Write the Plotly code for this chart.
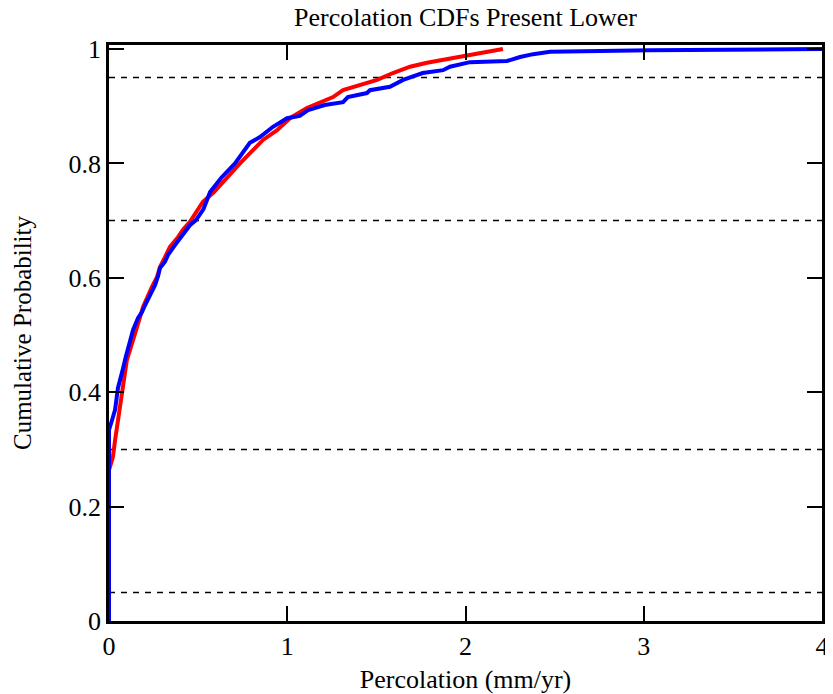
import plotly.graph_objects as go

# krzywa czerwona (CDF 1)
red_x = [0.0, 0.0, 0.011, 0.022, 0.034, 0.045, 0.056, 0.067, 0.079, 0.09, 0.1, 0.118, 0.135,
         0.157, 0.174, 0.191, 0.213, 0.241, 0.269, 0.286, 0.314, 0.342, 0.387, 0.415, 0.454,
         0.494, 0.527, 0.589, 0.66, 0.735, 0.791, 0.864, 0.943, 1.015, 1.11, 1.184, 1.257,
         1.313, 1.408, 1.504, 1.593, 1.689, 1.784, 1.874, 1.986, 2.098, 2.177, 2.21]
red_y = [0.0, 0.264, 0.275, 0.287, 0.316, 0.339, 0.357, 0.381, 0.404, 0.433, 0.456, 0.474, 0.491,
         0.509, 0.531, 0.549, 0.566, 0.584, 0.601, 0.619, 0.636, 0.654, 0.671, 0.684, 0.698,
         0.719, 0.733, 0.75, 0.775, 0.8, 0.818, 0.841, 0.858, 0.879, 0.897, 0.906, 0.916,
         0.928, 0.937, 0.946, 0.958, 0.969, 0.976, 0.981, 0.986, 0.993, 0.9965, 1.0]

# krzywa niebieska (CDF 2)
blue_x = [0.0, 0.0, 0.017, 0.034, 0.05, 0.062, 0.079, 0.095, 0.118, 0.135, 0.163, 0.185, 0.202,
          0.23, 0.258, 0.275, 0.286, 0.314, 0.331, 0.37, 0.415, 0.454, 0.488, 0.53, 0.567,
          0.63, 0.707, 0.79, 0.847, 0.92, 0.999, 1.07, 1.117, 1.21, 1.313, 1.34, 1.447, 1.464,
          1.576, 1.65, 1.76, 1.874, 1.913, 2.025, 2.233, 2.306, 2.38, 2.457, 2.474, 2.755,
          3.035, 4.0]
blue_y = [0.0, 0.334, 0.351, 0.369, 0.407, 0.425, 0.442, 0.463, 0.491, 0.509, 0.53, 0.54, 0.552,
          0.57, 0.587, 0.603, 0.617, 0.628, 0.64, 0.657, 0.675, 0.692, 0.701, 0.72, 0.75,
          0.775, 0.8, 0.836, 0.846, 0.864, 0.879, 0.883, 0.893, 0.902, 0.907, 0.916, 0.923, 0.928,
          0.934, 0.946, 0.958, 0.963, 0.969, 0.977, 0.979, 0.986, 0.991, 0.993, 0.995, 0.9965,
          0.998, 1.0]

# poziomy linii przerywanych
dashed_levels = [0.05, 0.3, 0.7, 0.95]

serif = "Liberation Serif, Times New Roman, serif"

# body ma 8px marginesu -> figura przesunięta o 8px, reszta wystaje poza okno
W, H = 825, 686

fig = go.Figure()

fig.add_trace(go.Scatter(x=red_x, y=red_y, mode='lines',
                         line=dict(color='#ff0000', width=4), showlegend=False))
fig.add_trace(go.Scatter(x=blue_x, y=blue_y, mode='lines',
                         line=dict(color='#0000ff', width=4), showlegend=False))

for lvl in dashed_levels:
    fig.add_shape(type='line', xref='x', yref='y', x0=0, x1=4, y0=lvl, y1=lvl,
                  line=dict(color='black', width=1.5, dash='6px,6px'), layer='below')

fig.update_layout(
    width=W, height=H,
    margin=dict(l=101, r=11, t=37, b=73, autoexpand=False),
    paper_bgcolor='white', plot_bgcolor='white',
    font=dict(family=serif, size=26, color='black'),
    title=dict(text='Percolation CDFs Present Lower', x=0.5, xanchor='center',
               xref='paper', yref='container', y=1, yanchor='top',
               pad=dict(t=0), font=dict(size=26)),
    xaxis=dict(range=[0, 4], tickvals=[0, 1, 2, 3, 4], ticks='inside', ticklen=15,
               tickwidth=2, tickcolor='black', showline=True, linecolor='black', linewidth=2.5,
               mirror='ticks', showgrid=False, zeroline=False, automargin=False,
               ticklabeloverflow='allow',
               title=dict(text='Percolation (mm/yr)', standoff=14, font=dict(size=26))),
    yaxis=dict(range=[0, 1.007], tickvals=[0, 0.2, 0.4, 0.6, 0.8, 1],
               ticktext=['0', '0.2', '0.4', '0.6', '0.8', '1'], ticks='inside', ticklen=15,
               tickwidth=2, tickcolor='black', showline=True, linecolor='black', linewidth=2.5,
               mirror='ticks', showgrid=False, zeroline=False, automargin=False,
               title=dict(text='Cumulative Probability', standoff=30, font=dict(size=25))),
)

fig.write_html("out.html")
